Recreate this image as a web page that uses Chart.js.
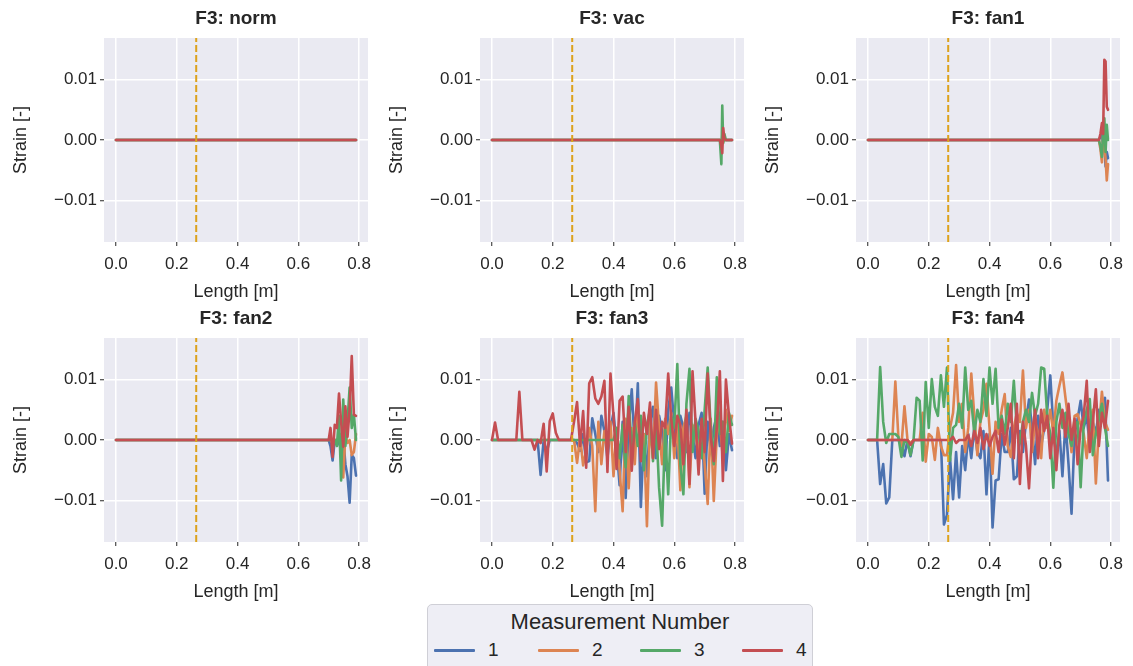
<!DOCTYPE html>
<html>
<head>
<meta charset="utf-8">
<script src="https://cdn.jsdelivr.net/npm/chart.js@4.4.1/dist/chart.umd.min.js"></script>
<style>
  body { margin: 0; background: #fff; }
  #wrap { position: relative; width: 1133px; height: 666px; overflow: hidden; font-family: 'Liberation Sans', Arial, sans-serif; color: #262626; }
  .panel { position: absolute; }
  #legend { position: absolute; left: 427px; top: 604px; width: 384px; height: 70px; border: 1px solid #cfcfd6; border-radius: 5px; background: #eeeef5; }
  #legend .title { position: absolute; left: 0; right: 0; top: 4px; text-align: center; font-size: 22px; }
  #legend .item { position: absolute; top: 34px; height: 22px; }
  #legend .swatch { position: absolute; top: 10px; width: 41px; height: 3px; border-radius: 1px; }
  #legend .lab { position: absolute; left: 54px; top: 0; font-size: 19px; }
</style>
</head>
<body>
<div id="wrap">
  <canvas class="panel" id="p0" width="380" height="304" style="left:0;top:0"></canvas>
  <canvas class="panel" id="p1" width="380" height="304" style="left:376px;top:0"></canvas>
  <canvas class="panel" id="p2" width="380" height="304" style="left:752px;top:0"></canvas>
  <canvas class="panel" id="p3" width="380" height="304" style="left:0;top:300px"></canvas>
  <canvas class="panel" id="p4" width="380" height="304" style="left:376px;top:300px"></canvas>
  <canvas class="panel" id="p5" width="380" height="304" style="left:752px;top:300px"></canvas>
  <div id="legend"><div class="title">Measurement Number</div></div>
</div>
<script>
// measurement labels and seaborn "deep" colours
const seriesLabels = ["1", "2", "3", "4"];
const seriesColors = ["#4C72B0", "#DD8452", "#55A868", "#C44E52"];

const xTickVals = [0, 0.2, 0.4, 0.6, 0.8];
const xTickLabels = ["0.0", "0.2", "0.4", "0.6", "0.8"];
const yTickVals = [-0.01, 0, 0.01];
const yTickLabels = ["\u22120.01", "0.00", "0.01"];

const xRange = [-0.0395, 0.8295];
const yRange = [-0.0169, 0.0169];
const fanStartAt = 0.264; // dashed vertical marker

// --- norm ---
const normX = [0, 0.79];
const normBlue = [0, 0];
const normOrange = [0, 0];
const normGreen = [0, 0];
const normRed = [0, 0];

// --- vac ---
const vacX = [0, 0.75, 0.755, 0.758, 0.761, 0.765, 0.77, 0.79];
const vacBlue = [0, 0, -0.0008, 0.0004, 0, 0, 0, 0];
const vacOrange = [0, 0, -0.0010, 0.0006, -0.0003, 0, 0, 0];
const vacGreen = [0, 0, -0.0040, 0.0057, -0.0005, 0.0010, 0, 0];
const vacRed = [0, 0, -0.0010, -0.0022, 0.0020, 0.0002, 0, 0];

// --- fan1 ---
const fan1X = [0, 0.76, 0.765, 0.77, 0.774, 0.778, 0.782, 0.786, 0.79];
const fan1Blue = [0, 0, 0.0005, 0.0014, -0.0015, -0.0005, -0.0044, -0.0020, -0.0030];
const fan1Orange = [0, 0, -0.0015, -0.0037, 0.0010, -0.0010, -0.0030, -0.0067, -0.0040];
const fan1Green = [0, 0, -0.0010, -0.0028, 0.0010, 0.0036, -0.0020, 0.0025, 0.0000];
const fan1Red = [0, 0, 0.0010, 0.0028, 0.0010, 0.0133, 0.0130, 0.0055, 0.0050];

// --- fan2 ---
const fan2X = [0, 0.700, 0.706, 0.713, 0.720, 0.727, 0.734, 0.741, 0.748, 0.755, 0.762, 0.769, 0.776, 0.783, 0.790];
const fan2Blue = [0, 0, -0.0010, -0.0034, 0, 0, -0.0005, -0.0015, 0.0005, -0.0040, -0.0060, -0.0104, -0.0025, -0.0030, -0.0059];
const fan2Orange = [0, 0, 0, 0, 0, 0, 0, 0.0010, -0.0062, 0.0010, -0.0005, 0, -0.0025, -0.0020, 0.0010];
const fan2Green = [0, 0, 0, 0, 0, -0.0010, 0.0040, -0.0067, 0.0067, -0.0010, 0.0030, 0.0087, 0.0020, 0.0042, 0.0000];
const fan2Red = [0, 0, 0.0020, -0.0028, 0.0025, 0.0020, 0.0077, 0.0030, -0.0011, 0.0056, 0.0005, 0.0050, 0.0139, 0.0042, 0.0040];

// --- fan3 / fan4 sample positions [m] ---
const lengthGrid = [
  0.00, 0.01, 0.02, 0.03, 0.04, 0.05, 0.06, 0.07, 0.08, 0.09,
  0.10, 0.11, 0.12, 0.13, 0.14, 0.15, 0.16, 0.17, 0.18, 0.19,
  0.20, 0.21, 0.22, 0.23, 0.24, 0.25, 0.26, 0.27, 0.28, 0.29,
  0.30, 0.31, 0.32, 0.33, 0.34, 0.35, 0.36, 0.37, 0.38, 0.39,
  0.40, 0.41, 0.42, 0.43, 0.44, 0.45, 0.46, 0.47, 0.48, 0.49,
  0.50, 0.51, 0.52, 0.53, 0.54, 0.55, 0.56, 0.57, 0.58, 0.59,
  0.60, 0.61, 0.62, 0.63, 0.64, 0.65, 0.66, 0.67, 0.68, 0.69,
  0.70, 0.71, 0.72, 0.73, 0.74, 0.75, 0.76, 0.77, 0.78, 0.79
];

const fan3Blue = [
  0, 0, 0, 0, 0, 0, 0, 0, 0, 0,
  0, 0, 0, 0, 0, 0, -0.0058, 0, -0.0020, 0,
  0, 0, 0, 0, 0, 0, 0, 0, -0.0005, -0.0018,
  0.0010, -0.0037, -0.0035, 0.0036, 0.0010, -0.0020, 0.0040, 0.0015, -0.0030, 0.0020,
  0.0045, -0.0010, -0.0075, 0.0030, -0.0096, 0.0020, 0.0084, -0.0015, 0.0094, -0.0111,
  0.0010, -0.0060, 0.0030, 0.0055, -0.0030, 0.0040, 0.0015, -0.0050, 0.0050, 0.0087,
  0.0025, -0.0030, 0.0040, 0.0020, -0.0020, 0.0045, 0.0010, -0.0030, 0.0025, 0.0045,
  -0.0089, 0.0030, -0.0020, 0.0020, 0.0040, -0.0010, 0.0030, -0.0050, 0.0010, -0.0017
];
const fan3Orange = [
  0, 0, 0, 0, 0, 0, 0, 0, 0, 0,
  0, 0, 0, 0, 0, 0, 0, 0, 0, 0,
  0, 0, 0, 0, 0, 0, 0, 0, -0.0038, 0.0005,
  -0.0042, -0.0018, 0.0020, -0.0010, -0.0118, 0.0030, -0.0040, 0.0015, -0.0020, 0.0030,
  -0.0060, 0.0020, -0.0050, -0.0118, 0.0035, -0.0080, 0.0020, -0.0040, 0.0060, -0.0020,
  0.0010, -0.0143, 0.0030, -0.0030, 0.0095, 0.0020, -0.0040, 0.0035, 0.0010, 0.0045,
  -0.0030, 0.0030, -0.0083, 0.0020, 0.0040, -0.0078, 0.0025, 0.0010, -0.0020, 0.0030,
  -0.0040, -0.0106, 0.0035, -0.0101, 0.0010, 0.0030, -0.0030, 0.0050, 0.0015, 0.0040
];
const fan3Green = [
  0, 0, 0, 0, 0, 0, 0, 0, 0, 0,
  0, 0, 0, 0, 0, 0, 0, 0, 0, 0,
  0, 0, 0, 0, 0, 0, 0, 0, 0, 0,
  0, 0, 0, 0, 0, 0, 0, 0, 0, 0,
  0, 0.0020, -0.0030, 0.0025, -0.0045, 0.0073, -0.0020, 0.0030, -0.0010, 0.0040,
  -0.0050, 0.0025, 0.0050, -0.0035, 0.0030, -0.0079, -0.0142, 0.0020, -0.0090, 0.0040,
  0.0020, 0.0126, -0.0040, -0.0090, 0.0060, 0.0118, -0.0020, 0.0035, 0.0015, -0.0030,
  0.0050, 0.0120, 0.0020, -0.0040, 0.0104, 0.0010, 0.0030, -0.0020, 0.0045, 0.0025
];
const fan3Red = [
  0, 0.0029, 0, 0, 0, 0, 0, 0, 0, 0.0080,
  0, 0, 0, 0, -0.0016, 0, -0.0005, 0.0027, -0.0052, 0.0031,
  0.0044, 0.0012, 0, 0, 0, 0, 0, 0.0030, 0.0063, -0.0010,
  0.0048, -0.0046, 0.0094, 0.0104, 0.0069, 0.0060, 0.0072, 0.0098, -0.0053, 0.0110,
  0.0040, -0.0048, 0.0065, 0.0072, -0.0020, 0.0055, -0.0051, 0.0030, 0.0068, -0.0035,
  0.0045, 0.0010, 0.0062, -0.0030, 0.0050, -0.0015, 0.0030, 0.0020, 0.0110, 0.0035,
  -0.0010, 0.0040, 0.0025, -0.0040, 0.0050, -0.0073, 0.0114, 0.0030, -0.0057, 0.0035,
  -0.0020, 0.0110, 0.0005, -0.0035, 0.0020, 0.0114, -0.0068, 0.0100, 0.0040, -0.0006
];

const fan4Blue = [
  0, 0, 0, 0, -0.0073, -0.0040, -0.0105, -0.0095, 0, 0,
  0, -0.0005, -0.0027, 0, -0.0027, 0, 0, 0, 0, 0,
  0, 0, 0, 0, 0, -0.0140, -0.0124, -0.0030, -0.0098, -0.0020,
  -0.0095, -0.0010, -0.0050, 0.0010, -0.0030, 0.0020, -0.0020, -0.0030, 0.0015, -0.0090,
  0.0010, -0.0145, -0.0067, -0.0065, 0.0010, -0.0020, -0.0020, 0.0020, -0.0065, -0.0060,
  0.0015, -0.0020, 0.0030, 0.0067, 0.0020, -0.0040, 0.0040, -0.0010, 0.0020, 0.0050,
  0.0107, 0.0020, -0.0030, 0.0015, -0.0060, 0.0030, -0.0040, -0.0122, 0.0010, 0.0035,
  0.0065, 0.0020, 0.0040, -0.0010, 0.0030, 0.0010, 0.0050, 0.0040, 0.0070, -0.0067
];
const fan4Orange = [
  0, 0, 0, 0, 0, 0, 0, 0, 0, 0.0097,
  0.0005, -0.0010, 0.0056, 0, -0.0005, 0, 0, 0, 0.0045, -0.0036,
  0.0010, 0.0005, -0.0033, 0.0020, -0.0010, -0.0025, -0.0025, 0.0020, 0.0045, 0.0124,
  0.0030, 0.0060, -0.0020, 0.0020, 0.0110, 0.0040, -0.0025, 0.0030, 0.0050, 0.0093,
  0.0020, -0.0056, 0.0030, 0.0010, 0.0050, 0.0076, -0.0010, -0.0028, 0.0020, 0.0045,
  0.0030, 0.0115, 0.0020, 0.0050, -0.0020, 0.0030, 0.0012, -0.0030, 0.0050, 0.0020,
  0.0050, 0.0010, 0.0065, 0.0090, 0.0112, 0.0070, 0.0030, -0.0020, 0.0040, 0.0043,
  0.0025, 0.0010, -0.0030, 0.0030, 0.0050, -0.0072, 0.0020, 0.0080, 0.0030, 0.0017
];
const fan4Green = [
  0, 0, 0, 0, 0.0121, 0.0030, -0.0005, 0.0010, 0.0010, 0.0010,
  0.0005, -0.0028, 0, -0.0005, -0.0025, 0, 0.0070, 0.0065, -0.0034, 0.0096,
  0.0020, 0.0101, 0.0055, 0.0040, 0.0107, 0.0055, 0.0120, -0.0034, 0.0020, 0.0025,
  0.0060, 0.0020, 0.0120, 0.0050, 0.0065, 0.0010, 0.0050, 0.0030, 0.0101, 0.0040,
  0.0120, 0.0060, 0.0118, 0.0020, 0.0040, 0.0010, 0.0060, 0.0030, 0.0098, 0.0020,
  -0.0005, 0.0030, 0.0050, 0.0030, 0.0078, 0.0040, 0.0060, 0.0120, 0.0118, 0.0040,
  0.0010, -0.0079, 0.0030, 0.0060, 0.0020, 0.0045, 0.0010, -0.0010, 0.0020, 0.0030,
  -0.0078, 0.0025, 0.0050, 0.0068, -0.0025, 0.0010, 0.0035, 0.0060, 0.0020, -0.0010
];
const fan4Red = [
  0, 0, 0, 0, 0, 0, 0, 0, 0, 0,
  0, 0, 0, 0, -0.0008, 0, 0, 0, 0, 0,
  0, 0, 0, 0, 0, 0, 0, 0, 0.0005, -0.0005,
  0, 0, 0, 0.0008, -0.0010, 0.0015, -0.0005, 0.0020, -0.0015, 0.0010,
  -0.0010, 0.0005, 0.0015, -0.0020, 0.0034, -0.0008, 0.0020, 0.0060, -0.0030, 0.0060,
  -0.0073, 0.0030, -0.0010, -0.0080, 0.0010, 0.0050, -0.0030, 0.0050, 0.0015, 0.0040,
  -0.0030, 0.0020, -0.0050, 0.0025, 0.0050, 0.0005, 0.0060, 0.0000, 0.0035, -0.0040,
  0.0020, 0.0040, 0.0098, -0.0020, 0.0030, 0.0084, -0.0010, 0.0045, 0.0020, 0.0065
];

const panels = [
  { title: "F3: norm", x: normX, lines: [normBlue, normOrange, normGreen, normRed] },
  { title: "F3: vac", x: vacX, lines: [vacBlue, vacOrange, vacGreen, vacRed] },
  { title: "F3: fan1", x: fan1X, lines: [fan1Blue, fan1Orange, fan1Green, fan1Red] },
  { title: "F3: fan2", x: fan2X, lines: [fan2Blue, fan2Orange, fan2Green, fan2Red] },
  { title: "F3: fan3", x: lengthGrid, lines: [fan3Blue, fan3Orange, fan3Green, fan3Red] },
  { title: "F3: fan4", x: lengthGrid, lines: [fan4Blue, fan4Orange, fan4Green, fan4Red] },
];

const FONT = "'Liberation Sans', Arial, sans-serif";
const INK = "#262626";

// seaborn darkgrid face
const plotBg = {
  id: "plotBg",
  beforeDraw(chart) {
    const { ctx, chartArea: { left, top, width, height } } = chart;
    ctx.save();
    ctx.fillStyle = "#EAEAF2";
    ctx.fillRect(left, top, width, height);
    ctx.restore();
  },
};

function drawPanel(canvasId, panel) {
  const datasets = panel.lines.map((ys, i) => ({
    label: seriesLabels[i],
    data: panel.x.map((x, j) => ({ x, y: ys[j] })),
    borderColor: seriesColors[i],
    borderWidth: 2.6,
    borderJoinStyle: "round",
    borderCapStyle: "round",
    pointRadius: 0,
    tension: 0,
    order: 4 - i,
  }));
  datasets.push({
    label: "marker",
    data: [{ x: fanStartAt, y: yRange[0] }, { x: fanStartAt, y: yRange[1] }],
    borderColor: "#DDA21C",
    borderWidth: 2,
    borderDash: [7, 3],
    pointRadius: 0,
    order: 0,
  });

  new Chart(document.getElementById(canvasId), {
    type: "line",
    data: { datasets },
    options: {
      responsive: false,
      animation: false,
      devicePixelRatio: 1,
      layout: { padding: { left: 0, right: 12, top: 0, bottom: 0 } },
      plugins: {
        legend: { display: false },
        tooltip: { enabled: false },
        title: {
          display: true,
          fullSize: false,
          text: panel.title,
          color: INK,
          font: { family: FONT, size: 19, weight: "bold", lineHeight: "22px" },
          padding: { top: 8, bottom: 8 },
        },
      },
      scales: {
        x: {
          type: "linear",
          min: xRange[0],
          max: xRange[1],
          afterBuildTicks: (axis) => { axis.ticks = xTickVals.map((v) => ({ value: v })); },
          afterFit: (axis) => { axis.height = 62; },
          ticks: {
            autoSkip: false,
            maxRotation: 0,
            padding: 8,
            color: INK,
            font: { family: FONT, size: 17 },
            callback: (v, i) => xTickLabels[i],
          },
          grid: { color: "#FFFFFF", lineWidth: 1.5, tickColor: INK, tickLength: 4, tickWidth: 1 },
          border: { display: false },
          title: {
            display: true,
            text: "Length [m]",
            color: INK,
            font: { family: FONT, size: 18, lineHeight: "20px" },
            padding: { top: 0, bottom: 2 },
          },
        },
        y: {
          type: "linear",
          min: yRange[0],
          max: yRange[1],
          afterBuildTicks: (axis) => { axis.ticks = yTickVals.map((v) => ({ value: v })); },
          afterFit: (axis) => { axis.width = 104; },
          ticks: {
            padding: 3,
            color: INK,
            font: { family: FONT, size: 17 },
            callback: (v, i) => yTickLabels[i],
          },
          grid: { color: "#FFFFFF", lineWidth: 1.5, tickColor: INK, tickLength: 4, tickWidth: 1 },
          border: { display: false },
          title: {
            display: true,
            text: "Strain [-]",
            color: INK,
            font: { family: FONT, size: 18, lineHeight: "20px" },
            padding: { top: 11, bottom: 0 },
          },
        },
      },
    },
    plugins: [plotBg],
  });
}

panels.forEach((p, i) => drawPanel("p" + i, p));

// legend box below the grid
const legendBox = document.getElementById("legend");
const legendLeft = [6, 110, 212, 314];
seriesLabels.forEach((lab, i) => {
  const item = document.createElement("div");
  item.className = "item";
  item.style.left = legendLeft[i] + "px";
  item.innerHTML =
    '<div class="swatch" style="background:' + seriesColors[i] + '"></div>' +
    '<div class="lab">' + lab + "</div>";
  legendBox.appendChild(item);
});
</script>
</body>
</html>
